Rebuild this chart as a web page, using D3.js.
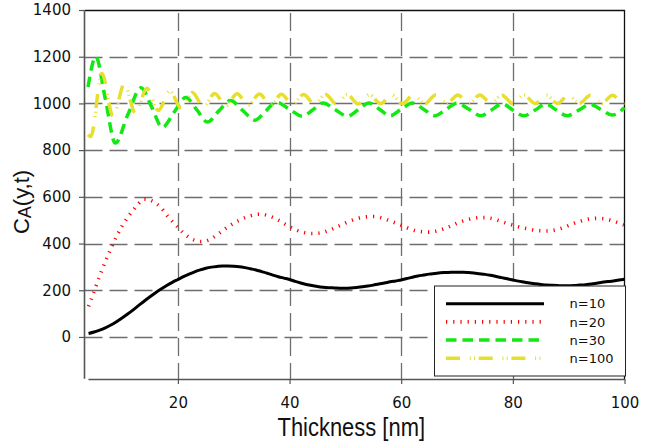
<!DOCTYPE html>
<html><head><meta charset="utf-8">
<script src="https://cdn.jsdelivr.net/npm/d3@7"></script>
<style>html,body{margin:0;padding:0;background:#fff;}svg{display:block;}</style>
</head><body>
<svg id="chart" width="654" height="445"></svg>
<script>
// ---------- data ----------
const thickness = [4,5,6,7,8,9,10,11,12,13,14,15,16,17,18,19,20,21,22,23,24,25,26,27,28,29,30,31,32,33,34,35,36,37,38,39,40,41,42,43,44,45,46,47,48,49,50,51,52,53,54,55,56,57,58,59,60,61,62,63,64,65,66,67,68,69,70,71,72,73,74,75,76,77,78,79,80,81,82,83,84,85,86,87,88,89,90,91,92,93,94,95,96,97,98,99,100];
const n10 = [15,21,29,39,51,65,81,98,116,135,154,172,189,205,220,234,246,258,269,279,287,294,299,302,304,304,303,301,297,292,287,280,273,265,258,252,246,238,231,225,220,216,213,211,210,209,209,210,212,215,218,222,227,231,236,240,244,250,256,261,265,269,272,275,276,277,277,277,276,274,271,268,264,259,254,249,244,239,235,231,228,225,222,221,220,219,219,220,222,224,227,230,234,237,240,244,247];
const n20 = [131,195,262,322,378,430,475,512,543,572,590,586,573,553,522,495,470,445,426,414,409,411,421,437,455,472,487,500,511,519,525,526,521,512,500,486,472,460,451,445,443,444,448,456,466,477,488,498,506,512,515,516,513,506,497,488,479,468,459,453,450,449,452,458,466,476,487,496,503,508,511,511,508,502,494,486,479,472,466,461,457,455,454,456,461,468,477,487,495,502,506,508,507,503,496,488,479];
const n30X = [3.9,5.3,7.0,8.8,11.0,13.4,15.3,17.2,19.4,21.4,23.4,25.3,27.3,29.4,31.6,33.8,35.7,37.6,40.0,42.3,44.2,46.0,48.2,50.4,52.3,54.2,56.1,58.0,60.0,62.0,64.0,66.0,68.0,70.0,72.2,74.3,76.2,78.1,80.0,82.0,84.0,85.9,87.8,89.7,91.8,93.9,95.9,97.8,100];
const n30Y = [1070,1200,1020,830,950,1067,985,897,965,1025,972,920,967,1012,970,928,966,1006,975,945,973,1002,973,945,973,1002,975,947,975,1002,975,947,974,1001,974,947,972,998,972,947,972,997,972,947,971,996,972,950,982];
const n100X = [3.9,4.4,6.4,8.4,10.4,12.4,14.45,16.5,18.55,20.6,22.6,24.6,26.6,28.6,30.6,32.6,34.6,36.6,38.55,40.5,42.5,44.5,46.45,48.4,50.35,52.3,54.3,56.3,58.25,60.2,62.2,64.2,66.2,68.2,70.15,72.1,74.1,76.1,78.05,80.0,82.0,84.0,86.0,88.0,89.95,91.9,93.9,95.9,97.85,99.8,100];
const n100Y = [866,858,1128,945,1082,958,1065,970,1052,980,1047,985,1043,989,1041,992,1040,994,1039,996,1038,997,1038,998,1037,998,1037,999,1037,999,1036,999,1036,1000,1036,1000,1036,1000,1035,1000,1035,1000,1035,1000,1035,1000,1035,1000,1035,1000,1001];
const xTicks = [20,40,60,80,100];
const yTicks = [0,200,400,600,800,1000,1200,1400];
const xGrid = [20,40,60,80];
const yGrid = [0,200,400,600,800,1000,1200];
const seriesNames = ["n=10","n=20","n=30","n=100"];
const xTitle = "Thickness [nm]";

// ---------- drawing ----------
const svg = d3.select("#chart");
const x = d3.scaleLinear().domain([3.9,100]).range([88,624.5]);
const y = d3.scaleLinear().domain([-177,1400]).range([378.3,10]);
const plotL = 84.5, plotR = 624.5, plotT = 10, plotB = 379.5;

// grid
const grid = svg.append("g").attr("stroke","#6e6e6e").attr("stroke-width",1.3).attr("stroke-dasharray","18,7");
grid.selectAll("line.h").data(yGrid).join("line").attr("class","h")
  .attr("x1",plotL).attr("x2",plotR).attr("y1",d=>Math.round(y(d))+0.5).attr("y2",d=>Math.round(y(d))+0.5);
grid.selectAll("line.v").data(xGrid).join("line").attr("class","v")
  .attr("y1",plotT+3).attr("y2",plotB).attr("x1",d=>Math.round(x(d))+0.5).attr("x2",d=>Math.round(x(d))+0.5);

// frame top/right
svg.append("path").attr("d",`M${plotL},${plotT+0.5}H${plotR}V${plotB}`)
  .attr("fill","none").attr("stroke","#111").attr("stroke-width",1.3);

// axes
const fmt = d3.format("d");
const yAxis = svg.append("g").attr("transform",`translate(${plotL-0.5},0)`)
  .call(d3.axisLeft(y).tickValues(yTicks).tickFormat(fmt).tickSize(5).tickSizeOuter(0).tickPadding(8));
const xAxis = svg.append("g").attr("transform",`translate(0,${plotB-0.5})`)
  .call(d3.axisBottom(x).tickValues(xTicks).tickFormat(fmt).tickSize(5).tickSizeOuter(0).tickPadding(13));
[yAxis,xAxis].forEach(g=>{
  g.select(".domain").attr("stroke","#555").attr("stroke-width",1.6);
  g.selectAll(".tick line").attr("stroke","#555").attr("stroke-width",1.2);
  g.selectAll(".tick text").attr("font-family","'DejaVu Sans', sans-serif").attr("font-size",15).attr("fill","#111");
});

// series
const styles = [
  {color:"#000000", width:3, dash:null},
  {color:"#ff0000", width:3.6, dash:"1.2,6"},
  {color:"#12e812", width:3.5, dash:"10.5,6"},
  {color:"#e6df2e", width:3.5, dash:"14,9.7,1,3.3,1,3.7"}
];
const series = [
  thickness.map((t,i)=>[t,n10[i]]),
  thickness.map((t,i)=>[t,n20[i]]),
  n30X.map((t,i)=>[t,n30Y[i]]),
  n100X.map((t,i)=>[t,n100Y[i]])
];
const line = d3.line().x(d=>x(d[0])).y(d=>y(d[1])).curve(d3.curveMonotoneX);
series.forEach((s,i)=>{
  svg.append("path").datum(s).attr("d",line).attr("fill","none")
    .attr("stroke",styles[i].color).attr("stroke-width",styles[i].width)
    .attr("stroke-dasharray",styles[i].dash).attr("stroke-linejoin","round");
});

// legend
const lg = svg.append("g");
lg.append("rect").attr("x",434.5).attr("y",286).attr("width",191).attr("height",90)
  .attr("fill","#fff").attr("stroke","#222").attr("stroke-width",1);
seriesNames.forEach((name,i)=>{
  const ly = 303.7 + i*18.2;
  lg.append("line").attr("x1",446).attr("x2",544).attr("y1",ly).attr("y2",ly)
    .attr("stroke",styles[i].color).attr("stroke-width",styles[i].width).attr("stroke-dasharray",styles[i].dash);
  lg.append("text").attr("x",569.5).attr("y",ly+4.6).text(name)
    .attr("font-family","'DejaVu Sans', sans-serif").attr("font-size",13).attr("fill","#111");
});

// axis titles
svg.append("text").attr("x",277.5).attr("y",436).text(xTitle)
  .attr("font-family","'Liberation Sans', Arial, sans-serif").attr("font-size",25)
  .attr("textLength",147.5).attr("lengthAdjust","spacingAndGlyphs").attr("fill","#111");
const yt = svg.append("text").attr("transform","translate(28.5,202) rotate(-90)")
  .attr("text-anchor","middle").attr("font-family","'Liberation Sans', Arial, sans-serif")
  .attr("font-size",22).attr("fill","#111");
yt.append("tspan").text("C");
yt.append("tspan").attr("font-size",18).attr("dy",2).text("A");
yt.append("tspan").attr("dy",-2).text("(y,t)");
</script>
</body></html>
